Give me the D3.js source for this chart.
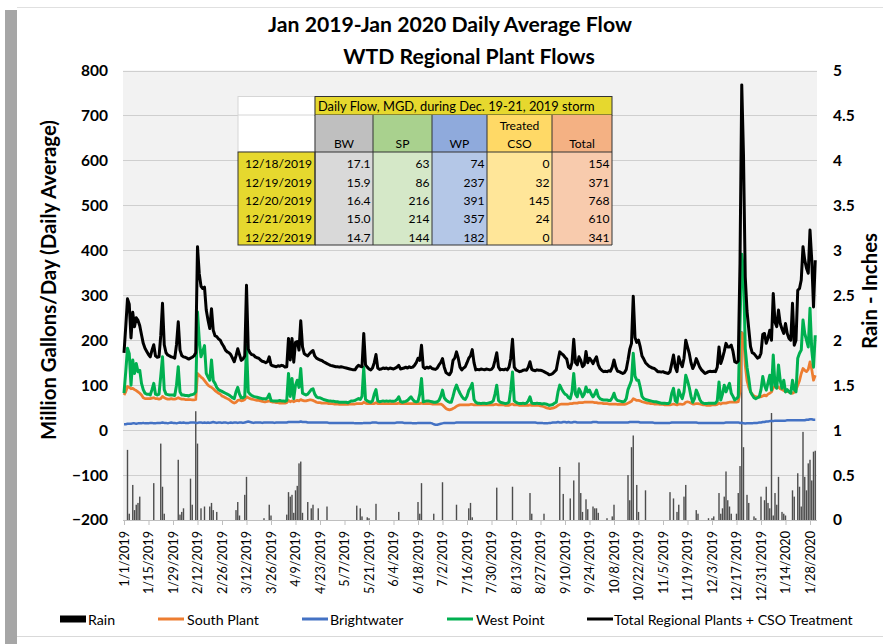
<!DOCTYPE html>
<html><head><meta charset="utf-8">
<script src="https://cdn.jsdelivr.net/npm/d3@7"></script>
<style>
body{margin:0;background:#fff;}
svg{display:block;font-family:Lato,'Open Sans',sans-serif;}
</style></head><body>
<svg id="c" width="883" height="644"></svg>
<script>
// ---------- DATA (daily, 1/1/2019 .. 1/31/2020) ----------
const total = [
172,230,292,280,205,262,230,250,244,232,212,193,182,175,
168,163,178,190,165,162,163,210,282,190,172,167,165,163,
162,160,190,241,178,166,163,162,160,158,160,162,165,172,
408,348,320,315,318,267,245,226,270,222,210,208,203,200,
192,186,178,174,172,168,160,152,165,181,168,155,158,165,
322,180,172,168,167,163,161,160,156,153,152,150,152,163,
145,143,142,141,143,142,144,143,140,141,204,156,204,151,
195,197,178,243,185,170,167,165,170,174,177,165,160,158,
156,155,152,150,148,146,144,143,142,141,141,140,141,140,
139,138,137,136,135,134,134,140,144,142,141,215,145,140,
136,134,138,150,168,138,135,136,138,137,138,136,138,137,
136,138,140,144,136,137,138,140,138,141,139,140,144,150,
160,155,189,140,137,140,138,141,137,136,135,138,145,150,
159,140,128,125,123,130,155,160,174,160,140,134,138,141,
150,160,165,179,150,134,135,134,136,135,134,136,135,134,
135,140,155,172,140,134,135,134,136,134,140,160,202,140,
134,132,130,131,133,134,133,140,152,135,133,132,134,133,
133,132,130,128,126,123,124,126,130,134,155,174,170,167,
162,158,140,137,150,202,150,145,163,155,141,145,175,150,
160,155,148,156,163,145,137,133,130,131,130,132,131,140,
156,140,131,130,128,126,128,135,156,180,193,298,206,195,
200,185,165,158,150,146,142,140,138,137,134,130,130,129,
130,128,127,126,130,148,167,140,130,163,150,141,160,200,
185,171,150,137,145,159,150,140,134,130,126,128,130,131,
130,131,130,140,185,148,160,175,193,185,185,189,175,152,
150,154,371,768,610,341,265,225,186,172,170,165,160,162,
171,213,215,193,205,222,200,304,240,230,267,237,225,215,
237,215,204,200,282,189,200,311,315,334,408,378,360,349,
445,378,274,378];
const westPoint = [
82,130,182,170,100,156,126,148,130,133,104,90,82,80,
80,78,90,104,80,78,80,120,163,90,80,79,78,78,
78,77,100,141,85,78,78,77,77,76,78,79,80,85,
263,200,163,175,188,126,118,111,156,110,104,95,90,88,
86,84,82,80,78,75,72,70,85,95,80,72,72,75,
188,85,80,77,75,74,73,72,71,70,70,69,72,80,
66,65,65,65,65,66,65,65,64,66,126,75,115,70,
100,111,95,137,82,80,78,80,85,90,92,80,74,72,
72,70,68,67,66,65,65,64,64,63,63,62,62,62,
62,62,61,63,65,65,66,68,70,68,75,140,68,65,
63,62,65,80,90,65,63,64,65,64,65,64,65,64,
64,65,68,74,64,62,63,64,66,70,74,68,64,63,
64,80,115,63,64,65,65,64,63,62,62,63,66,75,
89,72,67,64,62,62,75,90,100,90,82,75,70,68,
75,88,95,104,68,62,60,60,59,60,60,59,60,61,
62,65,80,100,66,62,61,60,59,60,62,90,129,65,
62,60,59,59,60,59,60,65,74,60,59,59,60,59,
59,58,59,58,57,55,56,57,60,62,85,100,92,85,
80,78,72,70,85,126,80,74,92,85,74,80,96,85,
89,80,74,80,89,75,70,68,67,67,67,66,66,72,
82,70,66,65,64,63,64,70,90,100,111,171,120,111,
111,95,75,70,68,67,66,65,64,63,63,62,61,60,
60,60,59,59,62,82,93,65,62,89,78,70,85,122,
110,95,75,62,70,89,80,68,62,60,59,59,60,60,
60,60,60,65,107,67,80,100,85,95,104,82,75,67,
70,74,237,391,357,182,140,115,85,78,72,70,72,74,
90,119,100,89,105,122,89,167,100,93,145,110,93,111,
85,90,85,82,111,90,85,160,171,178,245,215,200,185,
271,178,140,211];
const southPlant = [
78,85,97,95,92,93,90,88,85,82,78,72,70,70,
70,70,71,72,70,70,69,70,75,72,70,69,69,70,
69,69,70,72,70,69,69,68,68,68,68,67,67,68,
126,122,118,115,110,105,100,97,95,92,88,85,82,80,
76,74,72,70,68,65,62,60,62,66,67,65,66,68,
74,72,70,69,68,67,66,66,65,64,63,63,64,65,
63,62,62,61,61,60,60,60,60,61,66,63,65,63,
65,66,65,68,66,65,65,66,67,67,66,64,62,61,
61,60,60,60,60,59,59,59,58,58,58,57,57,57,
57,57,57,58,58,58,58,59,59,59,59,62,60,59,
59,59,59,59,61,59,59,59,59,59,59,59,59,59,
59,59,59,60,59,59,59,59,59,59,59,59,59,59,
59,59,60,59,59,59,59,59,58,58,58,58,58,58,
56,52,48,46,45,46,48,50,53,55,56,56,56,56,
56,56,57,57,56,56,56,56,56,56,56,56,56,56,
56,56,57,57,56,56,56,56,55,55,55,57,58,56,
56,56,55,55,55,55,55,55,56,55,55,55,55,55,
54,53,52,50,49,48,48,49,50,52,55,57,58,58,
58,58,58,59,59,60,60,60,61,61,61,62,62,62,
62,62,62,61,61,60,60,60,59,59,59,58,58,58,
58,58,57,57,57,57,57,58,60,62,64,70,68,66,
66,65,63,62,61,60,60,59,59,58,58,58,57,57,
57,56,56,56,56,57,58,57,56,58,58,57,58,62,
63,62,60,58,58,59,59,58,57,56,56,55,55,55,
56,56,56,57,60,58,60,60,60,61,62,62,62,62,
62,63,86,216,214,144,110,95,86,80,76,74,74,74,
74,76,78,76,80,82,85,95,96,95,96,92,90,88,
86,86,85,84,82,84,90,100,110,126,137,133,130,135,
152,135,111,122];
const brightwater = [
13,13,14,14,14,15,15,14,15,15,15,16,15,15,
15,16,16,15,15,16,16,16,17,16,16,15,16,17,
16,16,15,16,17,16,17,16,16,16,17,17,17,16,
16,17,17,16,17,16,17,16,17,18,17,16,17,17,
16,17,17,16,16,17,16,17,17,16,17,17,16,17,
18,19,18,17,16,17,17,17,17,16,17,17,17,17,
17,17,16,17,17,17,17,17,17,17,18,18,18,18,
18,18,18,19,18,18,18,17,17,17,17,17,17,17,
17,17,17,17,17,16,16,16,16,16,16,16,16,16,
16,16,16,16,16,16,15,15,15,15,15,16,16,16,
16,16,17,17,17,16,16,16,16,16,16,16,16,16,
16,16,17,17,17,17,16,16,16,16,16,15,15,15,
16,16,16,16,16,16,16,16,15,13,12,12,13,14,
15,16,16,16,16,16,16,16,17,17,17,17,17,17,
17,17,17,17,17,17,17,17,17,17,17,17,17,17,
17,17,17,17,17,17,17,17,17,17,17,17,17,17,
17,17,17,17,17,17,17,17,17,17,17,17,16,16,
16,16,15,15,15,16,16,17,17,17,18,17,17,18,
18,17,18,17,17,18,18,17,17,17,17,17,17,17,
17,17,18,18,18,17,17,17,17,17,17,17,17,17,
17,17,17,17,17,17,17,17,17,18,18,18,18,18,
18,17,17,17,17,17,17,17,17,16,16,16,16,16,
16,16,16,16,16,17,17,17,17,17,17,17,17,17,
17,17,17,17,17,17,16,16,16,16,16,16,16,16,
16,16,16,16,16,16,16,16,17,17,17,17,17,17,
17,17.1,15.9,16.4,15.0,14.7,15,15,15,15,16,16,16,17,
17,18,18,19,19,20,20,20,21,21,21,21,21,21,
21,22,22,22,22,22,22,22,22,22,22,22,23,23,
24,24,23,23];
const rain = [
0,0,0.78,0.07,0,0.39,0.11,0.17,0.19,0.26,0,0,0,0,
0,0,0,0.41,0,0,0,0.85,0.37,0.07,0,0,0,0,
0,0,0,0.67,0.06,0.09,0.13,0,0,0,0.46,0.17,0,1.21,
0.85,0,0.13,0,0.15,0,0,0.15,0.19,0.11,0,0.09,0,0,
0,0,0,0,0,0,0,0,0.11,0.2,0.05,0,0,0.28,
0.48,0,0,0,0,0,0,0,0,0,0.02,0,0,0.17,
0.05,0,0,0,0,0,0,0,0,0.06,0.31,0.26,0.28,0.08,
0.33,0.38,0.63,0.65,0.08,0,0,0.2,0,0.13,0.17,0,0,0.13,
0,0,0,0,0.15,0,0,0,0,0,0,0,0,0,
0,0,0,0,0,0,0,0.16,0,0.13,0.04,0,0,0.03,
0.02,0,0,0,0.18,0,0,0,0,0,0,0,0,0,
0,0,0,0.09,0,0,0,0,0,0,0,0,0,0,
0.2,0.07,0.41,0,0,0,0,0,0,0.07,0,0,0,0,
0.42,0,0,0,0,0,0,0,0.17,0,0,0,0,0,
0,0.13,0.19,0.03,0,0,0,0,0,0,0,0,0,0,
0,0,0,0.36,0,0,0,0,0,0,0,0,0.37,0,
0,0,0,0,0,0,0,0,0.3,0.07,0,0,0,0,
0,0,0.07,0,0,0,0,0,0,0,0,0.59,0,0.29,
0,0,0,0.24,0,0.44,0,0,0.64,0.3,0.09,0,0.23,0.12,
0,0,0.15,0.13,0.13,0.08,0,0,0,0,0.02,0,0,0.04,
0.17,0,0,0,0,0,0,0,0.5,0.22,0.81,0.94,0,0.39,
0.09,0,0,0,0.33,0,0,0,0,0,0,0,0,0,
0,0,0,0,0.31,0,0.24,0,0.09,0.17,0,0,0.26,0.39,
0,0,0,0,0,0.11,0.07,0,0,0,0,0,0.02,0,
0.02,0.04,0,0,0.3,0.07,0.13,0.26,0.54,0.22,0.15,0.07,0,0,
0.07,0.3,0.6,2.1,0.81,0,0.28,0.19,0,0,0.04,0.02,0,0,
0.26,0,0.22,0.37,0.19,0.13,1.19,0.05,0.3,0.17,0.48,0,0.09,0.07,
0.05,0,0,0,0.33,0.26,0,0.52,0.37,0.15,0.98,0.48,0.33,0.63,
0.67,0.44,0.76,0.77];

const leftTicks = [-200,-100,0,100,200,300,400,500,600,700,800];
const rightTicks = [0,0.5,1,1.5,2,2.5,3,3.5,4,4.5,5];
const tickEveryDays = 14;

const tblTitle = "Daily Flow, MGD, during Dec. 19-21, 2019 storm";
const tblHeads = ["BW","SP","WP","Treated CSO","Total"];
const tblDates = ["12/18/2019","12/19/2019","12/20/2019","12/21/2019","12/22/2019"];
const tblBW = [17.1,15.9,16.4,15.0,14.7];
const tblSP = [63,86,216,214,144];
const tblWP = [74,237,391,357,182];
const tblCSO = [0,32,145,24,0];
const tblTotal = [154,371,768,610,341];

const seriesNames = ["Rain","South Plant","Brightwater","West Point","Total Regional Plants + CSO Treatment"];

// ---------- DRAW ----------
const svg = d3.select('#c');
const P = {l:123, r:817, t:70.5, b:520};
const dayDate = i => new Date(Date.UTC(2019,0,1+i));
const x = d3.scaleUtc().domain([dayDate(0), dayDate(396)]).range([124, 817]);
const y = d3.scaleLinear().domain([-200,800]).range([P.b, P.t]);
const yr = d3.scaleLinear().domain([0,5]).range([P.b, P.t]);

function sizeFor(text, weight, target){
  const t = svg.append('text').attr('font-size',100).attr('font-weight',weight).text(text);
  const L = t.node().getComputedTextLength(); t.remove();
  return 100*target/L;
}

// frame
svg.append('rect').attr('x',5).attr('y',10).attr('width',12).attr('height',634).attr('fill','#a6a6a6');
svg.append('line').attr('x1',17).attr('x2',883).attr('y1',7.5).attr('y2',7.5).attr('stroke','#e0e0e0');
svg.append('line').attr('x1',17).attr('x2',883).attr('y1',636.5).attr('y2',636.5).attr('stroke','#d9d9d9');

// plot bg
svg.append('rect').attr('x',P.l).attr('y',P.t).attr('width',P.r-P.l).attr('height',P.b-P.t).attr('fill','#f2f2f2');

// grid
svg.append('g').selectAll('line').data(leftTicks).join('line')
  .attr('x1',P.l).attr('x2',P.r).attr('y1',d=>Math.round(y(d))+0.5).attr('y2',d=>Math.round(y(d))+0.5)
  .attr('stroke','#cfcfcf').attr('stroke-width',1);

// axes
const fsY = sizeFor('800','bold',27);
const gl = svg.append('g').attr('transform','translate(108,0)')
  .call(d3.axisLeft(y).tickValues(leftTicks).tickSize(0).tickPadding(0));
gl.select('.domain').remove();
gl.selectAll('text').attr('font-size',fsY).attr('font-weight','bold').attr('fill','#000').attr('font-family','Lato');

const gr = svg.append('g').attr('transform','translate(833,0)')
  .call(d3.axisRight(yr).tickValues(rightTicks).tickSize(0).tickPadding(0).tickFormat(d=>String(d)));
gr.select('.domain').remove();
gr.selectAll('text').attr('font-size',fsY).attr('font-weight','bold').attr('fill','#000').attr('font-family','Lato');

const xTicks = d3.range(0, 393, tickEveryDays).map(dayDate);
const fsX = sizeFor('1/15/2019','normal',63);
const gx = svg.append('g').attr('transform',`translate(0,${P.b})`)
  .call(d3.axisBottom(x).tickValues(xTicks).tickSize(5).tickFormat(d3.utcFormat('%-m/%-d/%Y')));
gx.select('.domain').attr('stroke','#bfbfbf').attr('d',`M${P.l},0.5H${P.r}`);
gx.selectAll('.tick line').attr('stroke','#bfbfbf');
gx.selectAll('text').attr('font-size',fsX).attr('fill','#000').attr('font-family','Lato')
  .attr('transform','rotate(-90)').attr('text-anchor','end').attr('x',-11).attr('y',0).attr('dy','0.35em');

// rain bars
svg.append('g').selectAll('rect').data(rain).join('rect')
  .attr('x',(d,i)=>x(dayDate(i))-0.7).attr('width',1.4)
  .attr('y',d=>yr(d)).attr('height',d=>P.b-yr(d))
  .attr('fill','#4d4d4d');

const line = d3.line().x((d,i)=>x(dayDate(i))).y(d=>y(d));
const drawLine = (arr,color,w)=> svg.append('path').datum(arr).attr('d',line)
  .attr('fill','none').attr('stroke',color).attr('stroke-width',w).attr('stroke-linejoin','round');
drawLine(brightwater,'#4472c4',2.5);
drawLine(southPlant,'#ed7d31',2.75);
drawLine(westPoint,'#00b050',3);
drawLine(total,'#000000',3);

// titles
const fsT = sizeFor('Jan 2019-Jan 2020 Daily Average Flow','bold',364);
svg.append('text').attr('x',450).attr('y',32).attr('text-anchor','middle').attr('font-weight','bold')
  .attr('font-size',fsT).text('Jan 2019-Jan 2020 Daily Average Flow');
svg.append('text').attr('x',469).attr('y',64).attr('text-anchor','middle').attr('font-weight','bold')
  .attr('font-size',fsT).text('WTD Regional Plant Flows');

const fsA = sizeFor('Million Gallons/Day (Daily Average)','bold',320);
svg.append('text').attr('transform','translate(56,280) rotate(-90)').attr('text-anchor','middle')
  .attr('font-weight','bold').attr('font-size',fsA).text('Million Gallons/Day (Daily Average)');
svg.append('text').attr('transform','translate(877,291) rotate(-90)').attr('text-anchor','middle')
  .attr('font-weight','bold').attr('font-size',fsA).text('Rain - Inches');

// legend
const fsL = sizeFor('South Plant','normal',72);
const legItems = [
  {n:seriesNames[0], c:'#000', sx:60, tx:88, h:7},
  {n:seriesNames[1], c:'#ed7d31', sx:158, tx:187, h:3},
  {n:seriesNames[2], c:'#4472c4', sx:302, tx:330, h:3},
  {n:seriesNames[3], c:'#00b050', sx:447, tx:476, h:3},
  {n:seriesNames[4], c:'#000', sx:587, tx:614, h:3},
];
const lg = svg.append('g');
legItems.forEach(it=>{
  lg.append('rect').attr('x',it.sx).attr('y',619-it.h/2).attr('width',26).attr('height',it.h).attr('fill',it.c);
  lg.append('text').attr('x',it.tx).attr('y',625).attr('font-size',fsL).attr('fill','#000').text(it.n);
});

// table
const T = {x0:238, xc:[315,373,432,487,552,612], yT:96.5, yH:115, yD:152, yB:245};
const tb = svg.append('g');
const headFill = ['#bfbfbf','#a9d18e','#8faadc','#ffd966','#f4b183'];
const cellFill = ['#d9d9d9','#d5e8c8','#b4c7e7','#ffe699','#f8cbad'];
tb.append('rect').attr('x',T.x0).attr('y',T.yT).attr('width',T.xc[0]-T.x0).attr('height',T.yD-T.yT).attr('fill','#fff').attr('stroke','#d6d6d6');
tb.append('line').attr('x1',T.x0).attr('x2',T.xc[0]).attr('y1',T.yH).attr('y2',T.yH).attr('stroke','#d6d6d6');
tb.append('rect').attr('x',T.xc[0]).attr('y',T.yT).attr('width',T.xc[5]-T.xc[0]).attr('height',T.yH-T.yT).attr('fill','#e6d82e').attr('stroke','#333');
for(let c=0;c<5;c++){
  tb.append('rect').attr('x',T.xc[c]).attr('y',T.yH).attr('width',T.xc[c+1]-T.xc[c]).attr('height',T.yD-T.yH).attr('fill',headFill[c]);
  tb.append('rect').attr('x',T.xc[c]).attr('y',T.yD).attr('width',T.xc[c+1]-T.xc[c]).attr('height',T.yB-T.yD).attr('fill',cellFill[c]);
}
tb.append('rect').attr('x',T.x0).attr('y',T.yD).attr('width',T.xc[0]-T.x0).attr('height',T.yB-T.yD).attr('fill','#e6d82e').attr('stroke','#333');
T.xc.forEach(xx=>tb.append('line').attr('x1',xx).attr('x2',xx).attr('y1',T.yH).attr('y2',T.yB).attr('stroke','#333'));
tb.append('line').attr('x1',T.xc[0]).attr('x2',T.xc[5]).attr('y1',T.yD).attr('y2',T.yD).attr('stroke','#333');
tb.append('line').attr('x1',T.xc[0]).attr('x2',T.xc[5]).attr('y1',T.yB).attr('y2',T.yB).attr('stroke','#333');

const fsTb = sizeFor('12/18/2019','normal',67);
const fsTt = sizeFor(tblTitle,'normal',277);
tb.append('text').attr('x',318).attr('y',111).attr('font-size',fsTt).text(tblTitle);
tblHeads.forEach((h,c)=>{
  const cx=(T.xc[c]+T.xc[c+1])/2;
  const parts=h.split(' ');
  if(parts.length===1) tb.append('text').attr('x',cx).attr('y',148).attr('text-anchor','middle').attr('font-size',fsTb).text(h);
  else parts.forEach((p,k)=>tb.append('text').attr('x',cx).attr('y',130+k*18).attr('text-anchor','middle').attr('font-size',fsTb).text(p));
});
const cols = [tblBW.map(v=>v.toFixed(1)), tblSP, tblWP, tblCSO, tblTotal];
tblDates.forEach((dt,r)=>{
  const yy = 168.3 + r*18.35;
  tb.append('text').attr('x',T.xc[0]-3).attr('y',yy).attr('text-anchor','end').attr('font-size',fsTb).text(dt);
  cols.forEach((col,c)=>tb.append('text').attr('x',T.xc[c+1]-2.5).attr('y',yy).attr('text-anchor','end').attr('font-size',fsTb).text(col[r]));
});
</script>
</body></html>
